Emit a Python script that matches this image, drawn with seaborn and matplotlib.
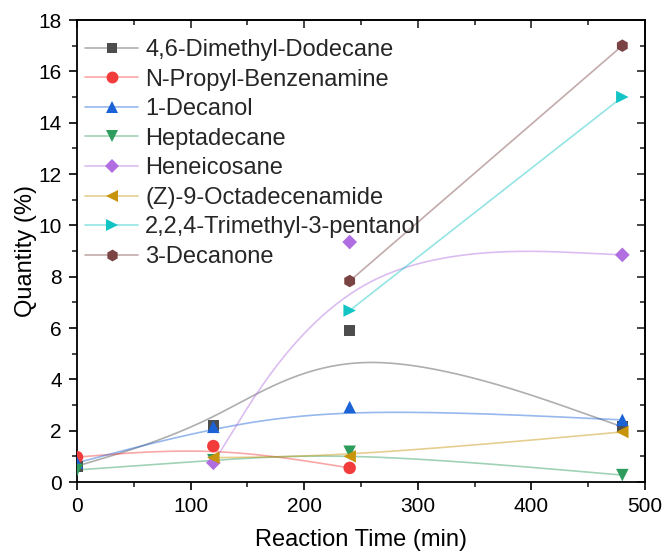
import numpy as np
import pandas as pd
import matplotlib
matplotlib.use("Agg")
import matplotlib.pyplot as plt
from matplotlib.lines import Line2D
from matplotlib.ticker import MultipleLocator
from matplotlib.colors import to_rgba
import seaborn as sns

# ---- data ----
names = ["4,6-Dimethyl-Dodecane", "N-Propyl-Benzenamine", "1-Decanol", "Heptadecane",
         "Heneicosane", "(Z)-9-Octadecenamide", "2,2,4-Trimethyl-3-pentanol", "3-Decanone"]
times = [
    [0, 120, 240, 480],
    [0, 120, 240],
    [0, 120, 240, 480],
    [0, 120, 240, 480],
    [120, 240, 480],
    [120, 240, 480],
    [240, 480],
    [240, 480],
]
values = [
    [0.62, 2.2, 5.9, 2.15],
    [0.97, 1.4, 0.55],
    [0.75, 2.15, 2.92, 2.42],
    [0.47, 0.85, 1.18, 0.27],
    [0.75, 9.35, 8.85],
    [0.95, 1.0, 1.95],
    [6.68, 15.0],
    [7.83, 17.0],
]
marker_colors = ["#4d4d4d", "#f23c3c", "#1a62d6", "#2e9c5c", "#b06ee0", "#c8940c", "#12c4c4", "#7a4444"]
markers = ["s", "o", "^", "v", "D", "<", ">", "h"]
msizes = [8, 9, 9, 9, 7.5, 9, 9, 9]


def bspline_connect(px, py, n=80):
    """Uniform cubic B-spline using the data points as control points (end points tripled)."""
    px = np.asarray(px, float); py = np.asarray(py, float)
    qx = np.concatenate([[px[0]] * 2, px, [px[-1]] * 2])
    qy = np.concatenate([[py[0]] * 2, py, [py[-1]] * 2])
    t = np.linspace(0, 1, n)
    b = np.vstack([(1 - t) ** 3,
                   3 * t ** 3 - 6 * t ** 2 + 4,
                   -3 * t ** 3 + 3 * t ** 2 + 3 * t + 1,
                   t ** 3]) / 6.0
    xs, ys = [], []
    for i in range(len(qx) - 3):
        xs.append(b.T @ qx[i:i + 4])
        ys.append(b.T @ qy[i:i + 4])
    return np.concatenate(xs), np.concatenate(ys)


sns.set_theme(style="ticks")
plt.rcParams["font.family"] = ["Liberation Sans", "DejaVu Sans"]

fig = plt.figure(figsize=(6.65, 5.51), dpi=100)
ax = fig.add_axes([0.1158, 0.1252, 0.8542, 0.8385])

LINE_ALPHA = 0.45
handles = []
for i, name in enumerate(names):
    cx, cy = bspline_connect(times[i], values[i])
    curve = pd.DataFrame({"t": cx, "q": cy})
    sns.lineplot(data=curve, x="t", y="q", ax=ax, color=marker_colors[i], alpha=LINE_ALPHA,
                 linewidth=1.2, sort=False, estimator=None, zorder=2 + i * 0.01)
for i, name in enumerate(names):
    pts = pd.DataFrame({"t": times[i], "q": values[i]})
    sns.scatterplot(data=pts, x="t", y="q", ax=ax, color=marker_colors[i], marker=markers[i],
                    s=msizes[i] ** 2, edgecolor="none", linewidth=0, zorder=3 + i * 0.01)
    handles.append(Line2D([], [], color=to_rgba(marker_colors[i], LINE_ALPHA), linewidth=1.2,
                          marker=markers[i], markersize=msizes[i] * 0.95,
                          markerfacecolor=marker_colors[i], markeredgewidth=0, label=name))

ax.set_xlim(0, 500)
ax.set_ylim(0, 18)
ax.xaxis.set_major_locator(MultipleLocator(100))
ax.xaxis.set_minor_locator(MultipleLocator(50))
ax.yaxis.set_major_locator(MultipleLocator(2))
ax.yaxis.set_minor_locator(MultipleLocator(1))

for s in ax.spines.values():
    s.set_color("black")
    s.set_linewidth(1.3)

ax.tick_params(axis="both", which="major", direction="out", length=6, width=1.2,
               labelsize=15, colors="black", pad=5)
ax.tick_params(axis="both", which="minor", direction="out", length=3.5, width=1.2)

# top / right inward ticks
axt = ax.secondary_xaxis("top")
axt.xaxis.set_major_locator(MultipleLocator(100))
axt.xaxis.set_minor_locator(MultipleLocator(50))
axt.tick_params(which="major", direction="in", length=6, width=1.2, labeltop=False)
axt.tick_params(which="minor", direction="in", length=3.5, width=1.2)
axr = ax.secondary_yaxis("right")
axr.yaxis.set_major_locator(MultipleLocator(2))
axr.yaxis.set_minor_locator(MultipleLocator(1))
axr.tick_params(which="major", direction="in", length=6, width=1.2, labelright=False)
axr.tick_params(which="minor", direction="in", length=3.5, width=1.2)

ax.set_xlabel("Reaction Time (min)", fontsize=17, labelpad=9, color="black")
ax.set_ylabel("Quantity (%)", fontsize=17, labelpad=1, color="black")

leg = ax.legend(handles=handles, loc="upper left", bbox_to_anchor=(0.006, 0.969),
                frameon=False, fontsize=17, handlelength=2.25, handletextpad=0.3,
                labelspacing=0.32, borderaxespad=0.0, borderpad=0.2)

fig.savefig("out.png", dpi=100, facecolor="white")
